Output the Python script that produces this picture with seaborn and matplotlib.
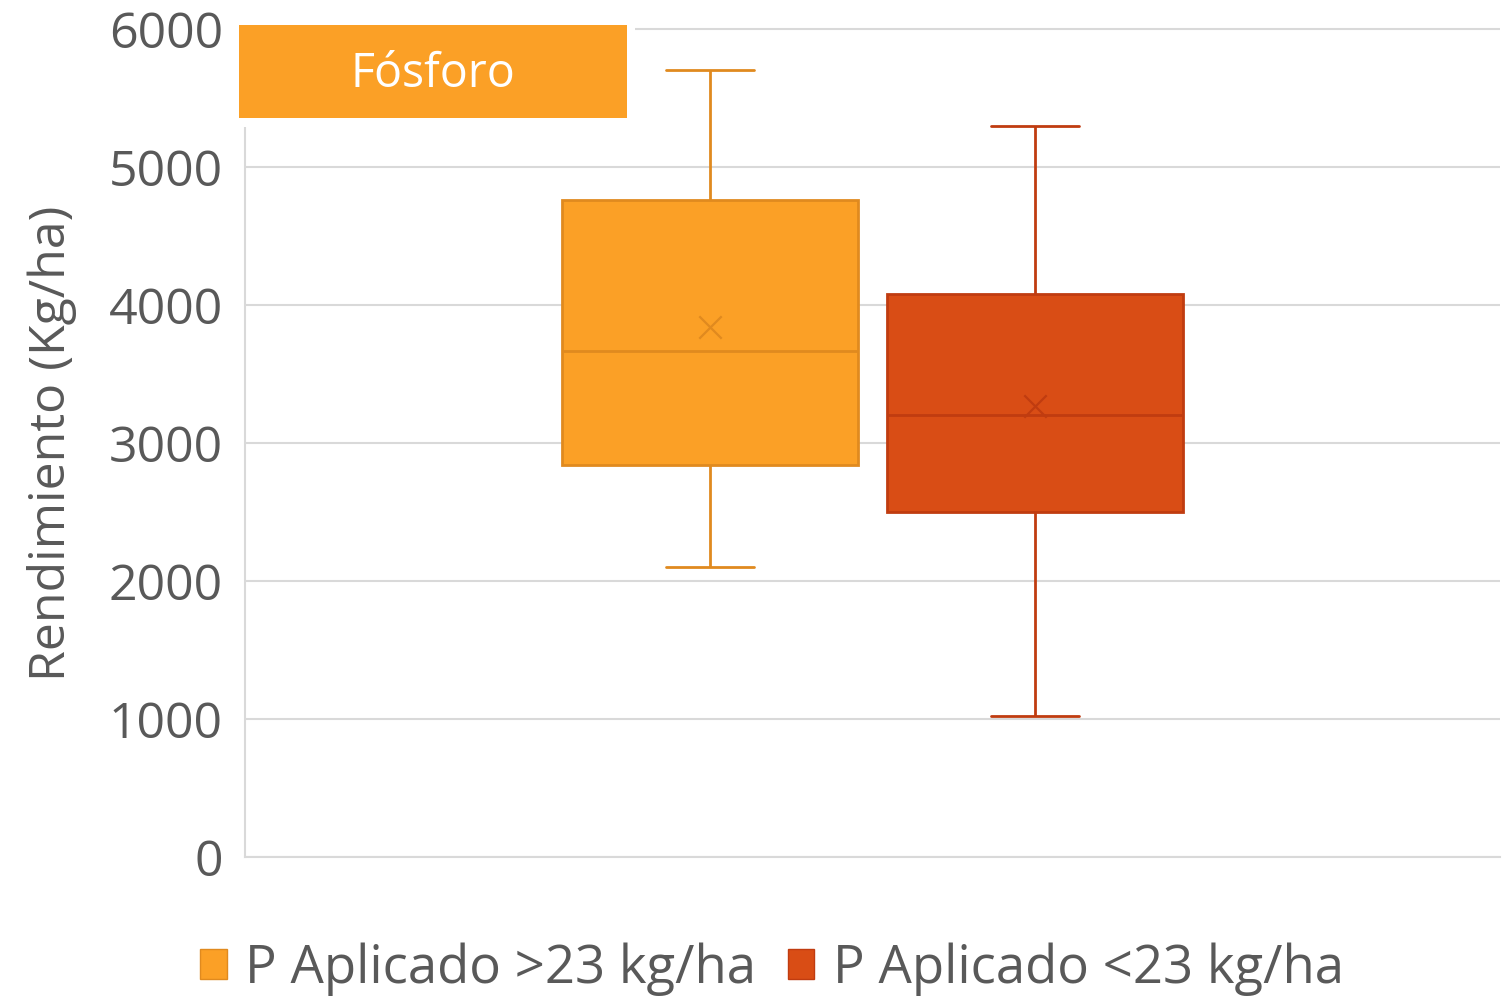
import pandas as pd
import numpy as np
import matplotlib.pyplot as plt
import seaborn as sns
from matplotlib.patches import Patch, Rectangle

# Dados (resumo de cinco números: mín, Q1, mediana, Q3, máx)
grupos = ['P Aplicado >23 kg/ha', 'P Aplicado <23 kg/ha']
resumo_maior = [2100, 2840, 3670, 4760, 5700]
resumo_menor = [1020, 2500, 3200, 4080, 5300]
medias = [3840, 3270]
yticks = [0, 1000, 2000, 3000, 4000, 5000, 6000]

cores_preench = ['#FBA026', '#D94D15']
cores_borda = ['#E08A1F', '#C03C10']
cinza = '#595959'

sns.set_theme(style='white')
plt.rcParams['font.family'] = ['Open Sans', 'DejaVu Sans']

dados = pd.DataFrame({
    'nutriente': ['Fósforo'] * 10,
    'grupo': [grupos[0]] * 5 + [grupos[1]] * 5,
    'rendimiento': resumo_maior + resumo_menor,
})

fig = plt.figure(figsize=(15.05, 9.98), dpi=100)
ax = fig.add_axes([0.1628, 0.1413, 0.8339, 0.8366])

sns.boxplot(data=dados, x='nutriente', y='rendimiento', hue='grupo',
            hue_order=grupos, palette=cores_preench, width=0.518, gap=0.09,
            whis=(0, 100), linewidth=2, legend=False, ax=ax)

# Cor das bordas por grupo + caps mais curtos
n = len(ax.lines) // len(grupos)
for i, patch in enumerate(ax.patches):
    patch.set_edgecolor(cores_borda[i])
    patch.set_facecolor(cores_preench[i])
    verts = patch.get_path().vertices
    largura = verts[:, 0].max() - verts[:, 0].min()
    for ln in ax.lines[i * n:(i + 1) * n]:
        ln.set_color(cores_borda[i])
        ln.set_linewidth(2)
        xd = np.asarray(ln.get_xdata(), dtype=float)
        yd = np.asarray(ln.get_ydata(), dtype=float)
        if len(xd) == 2 and yd[0] == yd[1] and (xd.max() - xd.min()) < 0.9 * largura:
            c = xd.mean()
            ln.set_xdata(c + (xd - c) * 0.595)

# Médias (x) no centro de cada caixa
for i, patch in enumerate(ax.patches):
    verts = patch.get_path().vertices
    cx = (verts[:, 0].min() + verts[:, 0].max()) / 2
    ax.scatter([cx], [medias[i]], marker='x', s=260, color=cores_borda[i],
               linewidths=1.6, zorder=5)

ax.set_xlim(-0.5, 0.5)
ax.set_ylim(0, 6050)
ax.set_yticks(yticks)
ax.set_xticks([])
ax.set_xlabel('')
ax.set_ylabel('Rendimiento (Kg/ha)', fontsize=36, color=cinza)
ax.yaxis.set_label_coords(-0.134, 0.496)
ax.tick_params(axis='y', length=0, pad=16, labelsize=36, labelcolor=cinza)

ax.grid(axis='y', color='#D9D9D9', linewidth=1.5)
ax.set_axisbelow(True)
for lado in ['top', 'right']:
    ax.spines[lado].set_visible(False)
for lado in ['left', 'bottom']:
    ax.spines[lado].set_color('#D9D9D9')
    ax.spines[lado].set_linewidth(1.5)

# Caixa de título (com margem branca por cima da grade)
fig.add_artist(Rectangle((231 / 1505, 1 - 127 / 998), 404 / 1505, 108 / 998,
                         transform=fig.transFigure, facecolor='white',
                         edgecolor='none', zorder=4))
fig.add_artist(Rectangle((239 / 1505, 1 - 118 / 998), 388 / 1505, 93 / 998,
                         transform=fig.transFigure, facecolor=cores_preench[0],
                         edgecolor='none', zorder=5))
fig.text(433 / 1505, 1 - 74 / 998, 'Fósforo', ha='center', va='center', color='white',
         fontsize=33.5, zorder=6)

# Legenda
handles = [Patch(facecolor=cores_preench[i], edgecolor=cores_borda[i]) for i in range(2)]
fig.legend(handles=handles, labels=grupos, loc='center', bbox_to_anchor=(0.513, 0.029),
           ncol=2, frameon=False, fontsize=38, handlelength=0.5, handleheight=0.5,
           handletextpad=0.35, columnspacing=0.6, labelcolor=cinza)

# fragmento na borda esquerda
fig.text(-0.004, 1 - 775 / 998, ')', ha='center', va='center', fontsize=34, color=cinza)

fig.savefig('out.png', dpi=100)
